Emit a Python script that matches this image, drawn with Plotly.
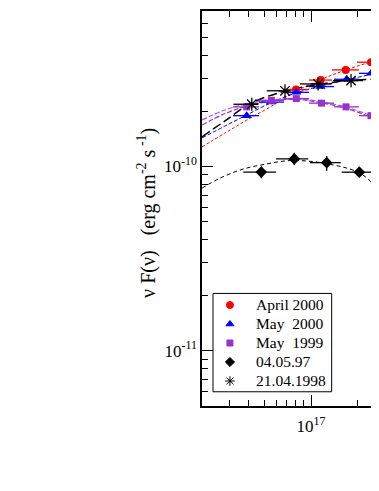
import math
import plotly.graph_objects as go

# ---- data (nu in Hz, nuF(nu) in erg cm^-2 s^-1) ----

# April 2000
apr00_x = [8.01e16, 1.154e17, 1.669e17, 2.425e17]
apr00_y = [2.62e-10, 2.95e-10, 3.35e-10, 3.69e-10]
apr00_xlo = [6.61e16, 9.71e16, 1.364e17, 1.972e17]
apr00_xhi = [9.71e16, 1.364e17, 2.03e17, 2.98e17]
apr00_fit_x = [2.0e16, 2.81e16, 3.88e16, 5.54e16, 8.01e16, 1.159e17, 1.676e17, 2.425e17, 2.73e17]
apr00_fit_y = [1.28e-10, 1.52e-10, 1.79e-10, 2.12e-10, 2.57e-10, 2.97e-10, 3.35e-10, 3.70e-10, 3.79e-10]

# May 2000
may00_x = [3.87e16, 5.54e16, 8.05e16, 1.15e17, 1.694e17, 2.432e17]
may00_y = [1.89e-10, 2.24e-10, 2.53e-10, 2.72e-10, 2.98e-10, 3.21e-10]
may00_xlo = [3.16e16, 4.64e16, 6.71e16, 9.71e16, 1.404e17, 2.03e17]
may00_xhi = [4.64e16, 6.71e16, 9.71e16, 1.404e17, 2.03e17, 2.98e17]
may00_fit_x = [2.0e16, 2.81e16, 3.88e16, 5.54e16, 8.01e16, 1.159e17, 1.676e17, 2.425e17, 2.73e17]
may00_fit_y = [1.43e-10, 1.66e-10, 1.91e-10, 2.22e-10, 2.51e-10, 2.74e-10, 2.95e-10, 3.17e-10, 3.23e-10]

# May 1999
may99_x = [3.87e16, 5.57e16, 8.05e16, 1.168e17, 1.676e17, 2.425e17]
may99_y = [2.11e-10, 2.29e-10, 2.34e-10, 2.21e-10, 2.11e-10, 1.89e-10]
may99_xlo = [3.16e16, 4.64e16, 6.71e16, 9.71e16, 1.404e17, 2.03e17]
may99_xhi = [4.64e16, 6.71e16, 9.71e16, 1.404e17, 2.03e17, 2.98e17]
may99_fit_x = [2.0e16, 2.81e16, 3.88e16, 5.54e16, 8.01e16, 1.159e17, 1.676e17, 2.425e17, 2.73e17]
may99_fit1_y = [1.79e-10, 2.03e-10, 2.19e-10, 2.30e-10, 2.33e-10, 2.25e-10, 2.10e-10, 1.89e-10, 1.79e-10]
may99_fit2_y = [1.68e-10, 1.94e-10, 2.13e-10, 2.27e-10, 2.32e-10, 2.22e-10, 2.07e-10, 1.85e-10, 1.75e-10]

# 04.05.97
d97_x = [4.80e16, 7.81e16, 1.26e17, 2.04e17, 3.26e17]
d97_y = [9.33e-11, 1.10e-10, 1.05e-10, 9.32e-11, 6.85e-11]
d97_xlo = [3.68e16, 5.97e16, 9.85e16, 1.573e17, 2.497e17]
d97_xhi = [5.97e16, 9.61e16, 1.55e17, 2.487e17, 4.0e17]
d97_ylo = [8.65e-11, 1.02e-10, 9.48e-11, 8.76e-11, 6.4e-11]
d97_yhi = [1.0e-10, 1.19e-10, 1.14e-10, 9.80e-11, 7.3e-11]
d97_fit_x = [2.0e16, 2.61e16, 3.66e16, 5.22e16, 7.33e16, 1.03e17, 1.384e17, 1.701e17, 2.06e17, 2.389e17, 2.73e17, 3.1e17]
d97_fit_y = [7.63e-11, 8.65e-11, 9.68e-11, 1.034e-10, 1.078e-10, 1.064e-10, 1.021e-10, 9.80e-11, 9.21e-11, 8.36e-11, 7.29e-11, 6.3e-11]

# 21.04.1998
a98_x = [4.17e16, 6.81e16, 1.11e17, 1.805e17]
a98_y = [2.18e-10, 2.58e-10, 2.81e-10, 2.93e-10]
a98_xlo = [3.18e16, 5.20e16, 8.50e16, 1.384e17]
a98_xhi = [4.51e16, 7.33e16, 1.357e17, 2.154e17]
a98_fit_x = [2.0e16, 2.81e16, 4.125e16, 6.81e16, 1.11e17, 1.805e17, 2.73e17]
a98_fit_y = [1.45e-10, 1.77e-10, 2.21e-10, 2.57e-10, 2.79e-10, 2.94e-10, 2.99e-10]

x_major = [1e17]
x_major_text = ["10<sup>17</sup>"]
x_minor = [3e16, 4e16, 5e16, 6e16, 7e16, 8e16, 9e16, 2e17, 3e17]
y_major = [1e-11, 1e-10]
y_major_text = ["10<sup>-11</sup>", "10<sup>-10</sup>"]
y_minor = [6e-12, 7e-12, 8e-12, 9e-12, 2e-11, 3e-11, 4e-11, 5e-11, 6e-11, 7e-11, 8e-11, 9e-11,
           2e-10, 3e-10, 4e-10, 5e-10, 6e-10]

legend_names = ["April 2000", "May  2000", "May  1999", "04.05.97", "21.04.1998"]
legend_symbols = ["circle", "triangle-up", "square", "diamond", "asterisk-open"]

RED = "#ff0000"
BLUE = "#0000ff"
PURPLE = "#9932cc"
PURPLE2 = "#b85ce8"
FONT = "Liberation Serif"
legend_colors = [RED, BLUE, PURPLE, "black", "black"]


def errs(x, lo, hi):
    return [h - v for v, h in zip(x, hi)], [v - l for v, l in zip(x, lo)]


fig = go.Figure()

# fitted curves (drawn first, under the points)
fig.add_trace(go.Scatter(x=apr00_fit_x, y=apr00_fit_y, mode="lines", line_shape="spline", showlegend=False,
                         line=dict(color=RED, width=1, dash="3px,2px")))
fig.add_trace(go.Scatter(x=may00_fit_x, y=may00_fit_y, mode="lines", line_shape="spline", showlegend=False,
                         line=dict(color=BLUE, width=1, dash="4px,2px")))
fig.add_trace(go.Scatter(x=may99_fit_x, y=may99_fit1_y, mode="lines", line_shape="spline", showlegend=False,
                         line=dict(color=PURPLE2, width=1.2, dash="5px,2px")))
fig.add_trace(go.Scatter(x=may99_fit_x, y=may99_fit2_y, mode="lines", line_shape="spline", showlegend=False,
                         line=dict(color=PURPLE, width=1.2, dash="5px,2px")))
fig.add_trace(go.Scatter(x=a98_fit_x, y=a98_fit_y, mode="lines", line_shape="spline", showlegend=False,
                         line=dict(color="black", width=1.5, dash="9px,4px")))
fig.add_trace(go.Scatter(x=d97_fit_x, y=d97_fit_y, mode="lines", line_shape="spline", showlegend=False,
                         line=dict(color="black", width=1, dash="4px,3px")))

# data points with error bars
series = [
    (apr00_x, apr00_y, apr00_xlo, apr00_xhi, RED, "circle", 8),
    (may00_x, may00_y, may00_xlo, may00_xhi, BLUE, "triangle-up", 9),
    (may99_x, may99_y, may99_xlo, may99_xhi, PURPLE, "square", 7),
]
for x, y, lo, hi, col, sym, size in series:
    ep, em = errs(x, lo, hi)
    fig.add_trace(go.Scatter(
        x=x, y=y, mode="markers", showlegend=False,
        marker=dict(symbol=sym, color=col, size=size),
        error_x=dict(type="data", symmetric=False, array=ep, arrayminus=em, color=col, thickness=1.3, width=0),
    ))

ep, em = errs(d97_x, d97_xlo, d97_xhi)
yp, ym = errs(d97_y, d97_ylo, d97_yhi)
fig.add_trace(go.Scatter(
    x=d97_x, y=d97_y, mode="markers", showlegend=False,
    marker=dict(symbol="diamond", color="black", size=9),
    error_x=dict(type="data", symmetric=False, array=ep, arrayminus=em, color="black", thickness=1.3, width=0),
    error_y=dict(type="data", symmetric=False, array=yp, arrayminus=ym, color="black", thickness=1.3, width=0),
))

ep, em = errs(a98_x, a98_xlo, a98_xhi)
fig.add_trace(go.Scatter(
    x=a98_x, y=a98_y, mode="markers", showlegend=False,
    marker=dict(symbol="asterisk-open", color="black", size=11, line=dict(color="black", width=1.3)),
    error_x=dict(type="data", symmetric=False, array=ep, arrayminus=em, color="black", thickness=1.3, width=0),
))

# hand-built legend box (plotly's own legend rows are too tall for this layout)
leg_x0, leg_x1, leg_y0, leg_y1 = 0.0595, 0.701, 0.036, 0.285
row_top, row_step = 0.2557, 0.0481
sym_x, text_x = 0.151, 0.281
rows_y = [row_top - i * row_step for i in range(len(legend_names))]

fig.add_shape(type="rect", xref="paper", yref="paper", x0=leg_x0, x1=leg_x1, y0=leg_y0, y1=leg_y1,
              line=dict(color="black", width=1), fillcolor="white", layer="below")
fig.add_trace(go.Scatter(
    x=[sym_x] * len(rows_y), y=rows_y, xaxis="x2", yaxis="y2", mode="markers", showlegend=False,
    hoverinfo="skip", cliponaxis=False,
    marker=dict(symbol=legend_symbols, color=legend_colors, size=[7, 7, 6, 7, 8], opacity=1,
                line=dict(color=legend_colors, width=1)),
))
for name, ry in zip(legend_names, rows_y):
    fig.add_annotation(xref="paper", yref="paper", x=text_x, y=ry, xanchor="left", yanchor="middle",
                       showarrow=False, text=name.replace("  ", "&nbsp;&nbsp;"),
                       font=dict(family=FONT, size=15.5, color="black"))

fig.add_annotation(
    xref="paper", yref="paper", x=-0.297, y=0.489, xanchor="center", yanchor="middle",
    textangle=-90, showarrow=False,
    text="ν F(ν)&nbsp;&nbsp;&nbsp;(erg cm<sup>-2</sup> s<sup> -1</sup>)",
    font=dict(family=FONT, size=20, color="black"),
)

# page body has an 8px margin, so the plot box is placed to land at x 202..(edge), y 11..406
fig.update_layout(
    width=379, height=491,
    margin=dict(l=194, r=0, t=3, b=93),
    paper_bgcolor="white", plot_bgcolor="white",
    font=dict(family=FONT, color="black"),
    showlegend=False,
    xaxis=dict(
        type="log", range=[math.log10(2e16), 17.4872],
        tickmode="array", tickvals=x_major, ticktext=x_major_text,
        ticks="inside", ticklen=11, tickwidth=1, tickcolor="black",
        minor=dict(tickmode="array", tickvals=x_minor, ticks="inside", ticklen=6, tickwidth=1, tickcolor="black"),
        showline=True, linecolor="black", linewidth=1.5, mirror="ticks",
        showgrid=False, zeroline=False, ticklabelstandoff=4,
        tickfont=dict(family=FONT, size=17, color="black"),
    ),
    yaxis=dict(
        type="log", range=[math.log10(5e-12), math.log10(7e-10)],
        tickmode="array", tickvals=y_major, ticktext=y_major_text,
        ticks="inside", ticklen=11, tickwidth=1, tickcolor="black",
        minor=dict(tickmode="array", tickvals=y_minor, ticks="inside", ticklen=6, tickwidth=1, tickcolor="black"),
        showline=True, linecolor="black", linewidth=1.5, mirror=False,
        showgrid=False, zeroline=False,
        tickfont=dict(family=FONT, size=17, color="black"),
    ),
    xaxis2=dict(overlaying="x", range=[0, 1], visible=False),
    yaxis2=dict(overlaying="y", range=[0, 1], visible=False),
)

fig.write_html("out.html")
